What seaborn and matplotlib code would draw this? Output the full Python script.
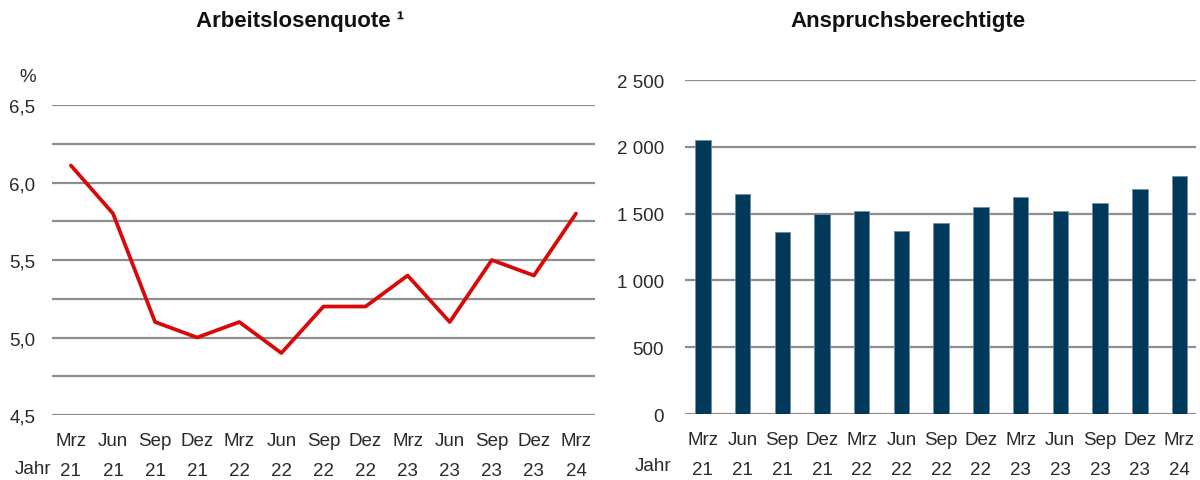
import matplotlib.pyplot as plt
import seaborn as sns
import pandas as pd
import numpy as np

# Quartale Mrz 21 .. Mrz 24
monate = ['Mrz', 'Jun', 'Sep', 'Dez', 'Mrz', 'Jun', 'Sep', 'Dez', 'Mrz', 'Jun', 'Sep', 'Dez', 'Mrz']
jahre = ['21', '21', '21', '21', '22', '22', '22', '22', '23', '23', '23', '23', '24']
quote = [6.11, 5.8, 5.1, 5.0, 5.1, 4.9, 5.2, 5.2, 5.4, 5.1, 5.5, 5.4, 5.8]
berechtigte = [2050, 1650, 1365, 1500, 1520, 1370, 1430, 1547, 1624, 1520, 1577, 1683, 1785]

perioden = [f'{m}\n{j}' for m, j in zip(monate, jahre)]
df = pd.DataFrame({'periode': perioden, 'quote': quote, 'berechtigte': berechtigte})

sns.set_theme(style='white')
plt.rcParams['font.family'] = ['Liberation Sans', 'DejaVu Sans']

fig = plt.figure(figsize=(12, 4.81), dpi=100)
ax1 = fig.add_axes([0.0433, 0.1351, 0.4525, 0.6445])
ax2 = fig.add_axes([0.5708, 0.1372, 0.426, 0.6944])

grid_col = '#8e8e8e'
text_col = '#2a2a2a'
tick_fs = 13.5

# --- Arbeitslosenquote ---
for y in np.arange(4.5, 6.51, 0.25):
    ax1.axhline(y, color=grid_col, lw=1.6, zorder=0)
sns.lineplot(data=df, x='periode', y='quote', ax=ax1, color='#d70a0a', lw=2.7, sort=False)
ax1.set_ylim(4.5, 6.5)
ax1.set_xlim(-0.45, 12.45)
ax1.set_yticks([4.5, 5.0, 5.5, 6.0, 6.5])
ax1.set_yticklabels([f'{v:.1f}'.replace('.', ',') for v in [4.5, 5.0, 5.5, 6.0, 6.5]])

# --- Anspruchsberechtigte ---
for y in np.arange(0, 2501, 500):
    ax2.axhline(y, color=grid_col, lw=1.6, zorder=0)
sns.barplot(data=df, x='periode', y='berechtigte', ax=ax2, color='#00395a',
            width=0.39, saturation=1, edgecolor='#6f8ea3', linewidth=0.6, zorder=2)
ax2.set_ylim(0, 2500)
ax2.set_xlim(-0.45, 12.42)
ax2.set_yticks(np.arange(0, 2501, 500))
ax2.set_yticklabels([f'{v:,}'.replace(',', ' ') for v in range(0, 2501, 500)])

for ax in (ax1, ax2):
    ax.set_xlabel('')
    ax.set_ylabel('')
    for s in ax.spines.values():
        s.set_visible(False)
    ax.set_xticks(range(len(perioden)))
    ax.set_xticklabels(perioden, linespacing=2.0)
    ax.tick_params(axis='both', length=0, labelsize=tick_fs, colors=text_col)
    ax.tick_params(axis='x', pad=12)
    ax.grid(False)
ax1.tick_params(axis='y', pad=12)
ax2.tick_params(axis='y', pad=15)

fig.text(300 / 1200, 1 - 22 / 481, 'Arbeitslosenquote ¹', ha='center', va='center',
         fontsize=16, fontweight='bold', color='#111111')
fig.text(908 / 1200, 1 - 22 / 481, 'Anspruchsberechtigte', ha='center', va='center',
         fontsize=16, fontweight='bold', color='#111111')
fig.text(36 / 1200, 1 - 78 / 481, '%', ha='right', va='center', fontsize=tick_fs, color=text_col)
fig.text(51 / 1200, 1 - 470 / 481, 'Jahr', ha='right', va='center', fontsize=tick_fs, color=text_col)
fig.text(671 / 1200, 1 - 467 / 481, 'Jahr', ha='right', va='center', fontsize=tick_fs, color=text_col)

fig.savefig('out.png', dpi=100, facecolor='white')
